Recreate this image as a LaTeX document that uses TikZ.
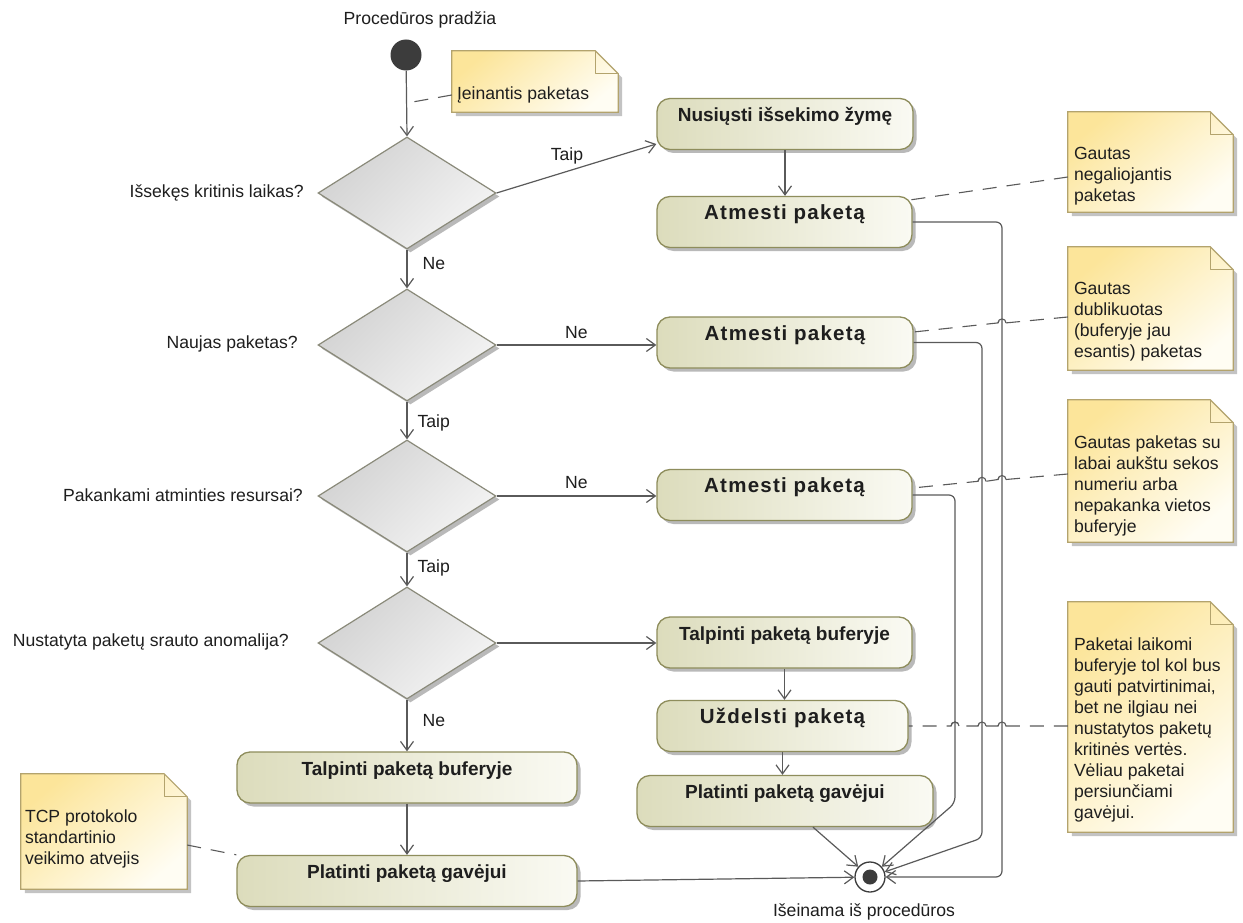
\documentclass[tikz,border=0pt]{standalone}
\usepackage{fontspec}
\setmainfont{Liberation Sans}
\usetikzlibrary{shapes.geometric,arrows.meta,shadows,calc}

\definecolor{flowc}{HTML}{5A5A5A}
\definecolor{textc}{HTML}{1E1E1E}
\definecolor{actline}{HTML}{8E8D5C}
\definecolor{actL}{HTML}{DCDCBC}
\definecolor{actR}{HTML}{FAFAF3}
\definecolor{decline}{HTML}{8A8A7A}
\definecolor{decA}{HTML}{D2D2D2}
\definecolor{decB}{HTML}{F4F4F4}
\definecolor{noteline}{HTML}{B3A36D}
\definecolor{noteA}{HTML}{FCE59A}
\definecolor{noteB}{HTML}{FFFDF3}
\definecolor{shadowc}{HTML}{9C9C9C}
\definecolor{dotc}{HTML}{3C3C3C}

% folded-corner note drawn around a geometry node
\newcommand\drawnote[1]{%
  \fill[shadowc,opacity=.6] ([shift={(4pt,-4pt)}]#1.north west) -- ([shift={(-19pt,-4pt)}]#1.north east)
    -- ([shift={(4pt,-27pt)}]#1.north east) -- ([shift={(4pt,-4pt)}]#1.south east)
    -- ([shift={(4pt,-4pt)}]#1.south west) -- cycle;
  \path[draw=noteline, line width=1.2pt, top color=noteA, bottom color=noteB, shading angle=40]
    (#1.north west) -- ([xshift=-23pt]#1.north east) -- ([yshift=-23pt]#1.north east)
    -- (#1.south east) -- (#1.south west) -- cycle;
  \draw[noteline, line width=1.2pt, line join=round] ([xshift=-23pt]#1.north east)
    -- ([shift={(-23pt,-23pt)}]#1.north east) -- ([yshift=-23pt]#1.north east);
}

\tikzset{
  plain/.style={inner sep=0pt, text=textc},
  lbl/.style={inner sep=1pt, text=textc},
  flow/.style={draw=flowc, line width=1.2pt, -{Straight Barb[length=9pt,width=13pt]}},
  noteconn/.style={draw=flowc, line width=1.1pt, dash pattern=on 14pt off 10pt},
  hop/.pic={\draw[flowc, line width=1.1pt] (4pt,0) arc[start angle=0, end angle=180, radius=4pt];},
  shadowed/.style={drop shadow={shadow xshift=3.5pt, shadow yshift=-3.5pt, fill=shadowc, opacity=.7}},
  action/.style={rectangle, rounded corners=13pt, draw=actline, line width=1.3pt,
    left color=actL, right color=actR, shadowed,
    font=\fontsize{19pt}{22pt}\selectfont\bfseries, text=textc,
    text height=23pt, text depth=28pt, inner ysep=0pt, inner xsep=0pt},
  widetext/.style={font=\fontsize{20.5pt}{22pt}\selectfont\bfseries\addfontfeatures{LetterSpace=6}},
  decision/.style={diamond, draw=decline, line width=1.2pt, top color=decA, bottom color=decB,
    shading angle=45, minimum width=178pt, minimum height=112pt, inner sep=0pt,
    shape aspect=1.59, shadowed},
  startdot/.style={circle, fill=dotc, minimum size=31pt, inner sep=0pt},
  finalring/.style={circle, draw=dotc, line width=1.3pt, fill=white, minimum size=30pt, inner sep=0pt},
  finaldot/.style={circle, fill=dotc, minimum size=15pt, inner sep=0pt},
  notebox/.style={rectangle, draw=none, inner sep=0pt},
  notetext/.style={inner sep=0pt, align=left, anchor=north west, text=textc,
    execute at begin node={\rule{0pt}{14pt}}},
}

\begin{document}
\begin{tikzpicture}[x=1pt, y=1pt, font=\fontsize{17.6pt}{21pt}\selectfont]
\useasboundingbox (0,0) rectangle (1243,-923);
\fill[white] (0,0) rectangle (1243,-923);

% initial node
\node[startdot] (start) at (406,-55) {};
\node[plain] (startlbl) at (420,-20) {Procedūros pradžia};

% decisions
\node[decision] (d1) at (407,-193) {};
\node[decision] (d2) at (407,-345) {};
\node[decision] (d3) at (407,-496) {};
\node[decision] (d4) at (407,-643) {};
\node[plain, anchor=east] (q1) at (304,-193) {Išsekęs kritinis laikas?};
\node[plain, anchor=east] (q2) at (298,-344) {Naujas paketas?};
\node[plain, anchor=east] (q3) at (303,-495) {Pakankami atminties resursai?};
\node[plain, anchor=east] (q4) at (289,-642) {Nustatyta paketų srauto anomalija?};

% actions
\node[action, minimum width=256pt] (nus)   at (785,-124)   {Nusiųsti išsekimo žymę};
\node[action, widetext, minimum width=255pt] (atm1)  at (784.5,-222) {Atmesti paketą};
\node[action, widetext, minimum width=256pt] (atm2)  at (785,-342.5) {Atmesti paketą};
\node[action, widetext, minimum width=255pt] (atm3)  at (784.5,-495) {Atmesti paketą};
\node[action, minimum width=255pt] (talpR) at (784.5,-642.5) {Talpinti paketą buferyje};
\node[action, widetext, minimum width=251pt] (uzd)   at (782.5,-726) {Uždelsti paketą};
\node[action, minimum width=296pt] (platR) at (785,-801)   {Platinti paketą gavėjui};
\node[action, minimum width=340pt] (talpL) at (407,-777.5) {Talpinti paketą buferyje};
\node[action, minimum width=340pt] (platL) at (407,-881)   {Platinti paketą gavėjui};

% final node
\node[finalring] (final) at (870,-877) {};
\node[finaldot] (finaldot) at (final) {};
\node[plain] (finallbl) at (864,-912) {Išeinama iš procedūros};

% notes
\node[notebox, minimum width=166pt, minimum height=61pt]  (n1) at (535,-81.5) {};
\node[notebox, minimum width=165pt, minimum height=100pt] (n2) at (1150.5,-162) {};
\node[notebox, minimum width=165pt, minimum height=123pt] (n3) at (1150.5,-308.5) {};
\node[notebox, minimum width=165pt, minimum height=142pt] (n4) at (1150.5,-471) {};
\node[notebox, minimum width=165pt, minimum height=230pt] (n5) at (1150.5,-717) {};
\node[notebox, minimum width=166pt, minimum height=115pt] (n6) at (104,-831.5) {};
\drawnote{n1}\drawnote{n2}\drawnote{n3}\drawnote{n4}\drawnote{n5}\drawnote{n6}
\node[notetext] (n1t) at ([shift={(5pt,-35pt)}]n1.north west) {Įeinantis paketas};
\node[notetext] (n2t) at ([shift={(6pt,-35.5pt)}]n2.north west) {Gautas\\negaliojantis\\paketas};
\node[notetext] (n3t) at ([shift={(6pt,-35.5pt)}]n3.north west) {Gautas\\dublikuotas\\(buferyje jau\\esantis) paketas};
\node[notetext] (n4t) at ([shift={(6pt,-35.5pt)}]n4.north west) {Gautas paketas su\\labai aukštu sekos\\numeriu arba\\nepakanka vietos\\buferyje};
\node[notetext] (n5t) at ([shift={(6pt,-35.5pt)}]n5.north west) {Paketai laikomi\\buferyje tol kol bus\\gauti patvirtinimai,\\bet ne ilgiau nei\\nustatytos paketų\\kritinės vertės.\\Vėliau paketai\\persiunčiami\\gavėjui.};
\node[notetext] (n6t) at ([shift={(4pt,-35.5pt)}]n6.north west) {TCP protokolo\\standartinio\\veikimo atvejis};

% control flow
\draw[flow] (start) -- (d1.north);
\draw[flow] (d1.east) -- ([yshift=-20pt]nus.west) node[lbl, pos=0.44, anchor=south, yshift=6pt] {Taip};
\draw[flow] (d1.south) -- (d2.north) node[lbl, pos=0.35, anchor=west, xshift=14pt] {Ne};
\draw[flow] (d2.east) -- (d2.east -| atm2.west) node[lbl, midway, anchor=south, yshift=5pt] {Ne};
\draw[flow] (d2.south) -- (d3.north) node[lbl, pos=0.56, anchor=west, xshift=9pt] {Taip};
\draw[flow] (d3.east) -- (d3.east -| atm3.west) node[lbl, midway, anchor=south, yshift=6pt] {Ne};
\draw[flow] (d3.south) -- (d4.north) node[lbl, pos=0.46, anchor=west, xshift=9pt] {Taip};
\draw[flow] (d4.east) -- (d4.east -| talpR.west);
\draw[flow] (d4.south) -- (talpL.north) node[lbl, pos=0.4, anchor=west, xshift=14pt] {Ne};
\draw[flow] (nus.south) -- (nus.south |- atm1.north);
\draw[flow] (talpR.south) -- (talpR.south |- uzd.north);
\draw[flow] (uzd.south) -- (uzd.south |- platR.north);
\draw[flow] (talpL.south) -- (platL.north);

% flows into the final node
\coordinate (b1) at (1002,-877);
\coordinate (b2) at (982,-838);
\coordinate (b3) at (955,-803);
\draw[flow] (platL.east) -- (final);
\draw[flow] ([xshift=28pt]platR.south) -- (final);
\draw[flow, rounded corners=6pt] (atm1.east) -| (b1) -- (final.east);
\draw[flow, rounded corners=6pt] (atm2.east) -| (b2) -- (final);
\draw[flow, rounded corners=6pt] (atm3.east) -| (b3) -- (final);

% note anchors (dashed, hopping over the flow lines)
\coordinate (cin) at (407,-103);
\draw[noteconn] ([yshift=-13.5pt]n1.west) -- (cin);
\draw[noteconn] ([yshift=-15pt]n2.west) -- ([shift={(-2pt,-4pt)}]atm1.north east);
\draw[noteconn] ([yshift=-8.5pt]n3.west) -- (1006,-322.9)
  arc[start angle=0, end angle=180, radius=4pt] -- ([yshift=10.5pt]atm2.east);
\draw[noteconn] ([yshift=-3pt]n4.west) -- (1006,-479.5)
  arc[start angle=0, end angle=180, radius=4pt] -- (986,-481.3)
  arc[start angle=0, end angle=180, radius=4pt] -- ([yshift=7pt]atm3.east);
\draw[noteconn] ([yshift=-9pt]n5.west) -- (1006,-726)
  arc[start angle=0, end angle=180, radius=4pt] -- (986,-726)
  arc[start angle=0, end angle=180, radius=4pt] -- (959,-726)
  arc[start angle=0, end angle=180, radius=4pt] -- (uzd.east);
\draw[noteconn] ([yshift=-13.5pt]n6.east) -- (platL.north west);
% the hops stay visible whatever the dash phase
\pic at (1002,-322.9) {hop};
\pic at (1002,-479.5) {hop};
\pic at (982,-481.3) {hop};
\pic at (1002,-726) {hop};
\pic at (982,-726) {hop};
\pic at (955,-726) {hop};
\end{tikzpicture}
\end{document}
